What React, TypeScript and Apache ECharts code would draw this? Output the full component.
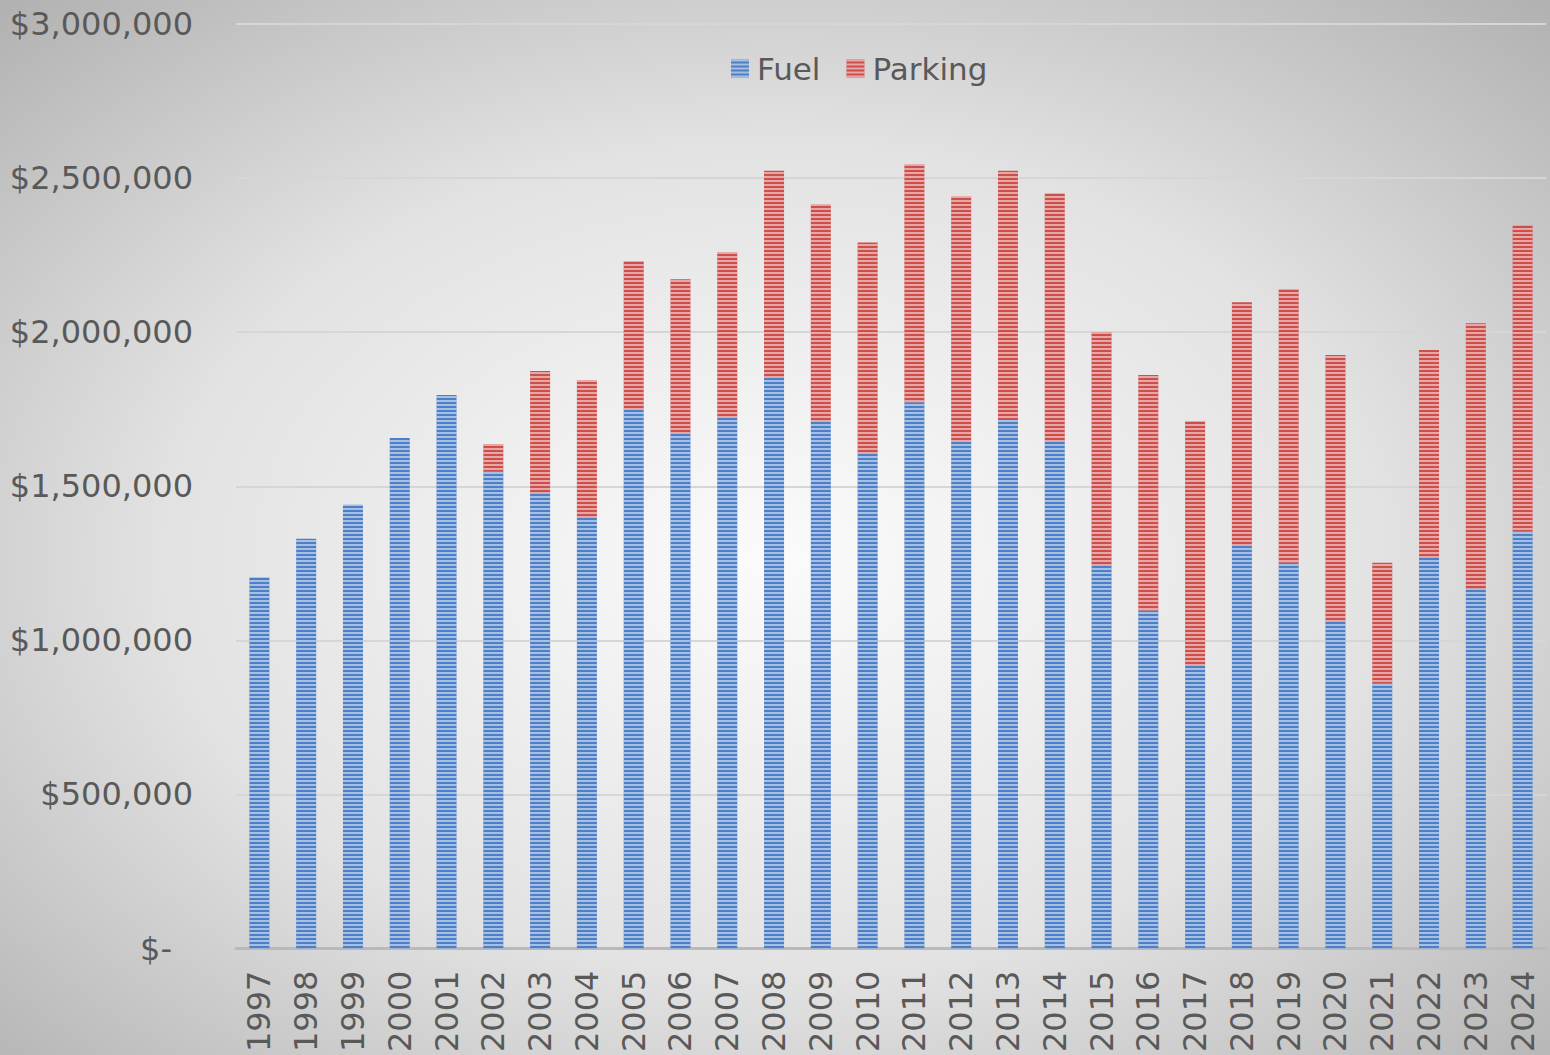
import React, { useEffect, useRef } from "react";
import * as echarts from "echarts";

const years = [
  "1997","1998","1999","2000","2001","2002","2003","2004","2005","2006","2007","2008","2009","2010",
  "2011","2012","2013","2014","2015","2016","2017","2018","2019","2020","2021","2022","2023","2024",
];
const fuel = [
  1204000, 1330000, 1440000, 1657000, 1796000, 1547000, 1476000, 1398000, 1751000, 1670000,
  1725000, 1851000, 1712000, 1605000, 1773000, 1647000, 1715000, 1644000, 1243000, 1097000,
  919000, 1307000, 1252000, 1061000, 861000, 1268000, 1168000, 1353000,
];
const parking = [
  0, 0, 0, 0, 0, 90000, 398000, 447000, 479000, 502000,
  534000, 673000, 702000, 686000, 771000, 793000, 809000, 806000, 757000, 764000,
  793000, 790000, 887000, 865000, 391000, 674000, 861000, 993000,
];
const yTicks = { min: 0, max: 3000000, interval: 500000 };

const FONT = "'DejaVu Sans', Verdana, sans-serif";
const TEXT = "#595959";
const FS = 32;

const stripe = (color: string) => ({
  color,
  decal: {
    symbol: "rect",
    symbolSize: 1,
    dashArrayX: [1, 0],
    dashArrayY: [2, 2],
    rotation: 0,
    color: "rgba(255,255,255,0.5)",
  },
});

export default function App() {
  const ref = useRef<HTMLDivElement>(null);
  useEffect(() => {
    if (!ref.current) return;
    const chart = echarts.init(ref.current, undefined, { renderer: "svg" });
    chart.setOption({
      animation: false,
      graphic: [
        {
          type: "rect",
          z: -100,
          silent: true,
          shape: { x: 0, y: 0, width: 1550, height: 1055 },
          style: {
            fill: new echarts.graphic.RadialGradient(0.5, 0.53, 0.72, [
              { offset: 0, color: "#fbfbfb" },
              { offset: 0.55, color: "#e2e2e2" },
              { offset: 1, color: "#b2b2b2" },
            ]),
          },
        },
      ],
      legend: {
        top: 48,
        left: 726,
        itemWidth: 18,
        itemHeight: 18,
        itemGap: 26,
        icon: "rect",
        textStyle: { fontSize: 31, color: TEXT, fontFamily: FONT, padding: [0, 0, 0, 3] },
        data: ["Fuel", "Parking"],
      },
      grid: { left: 236, right: 4, top: 24, bottom: 104, containLabel: false },
      xAxis: {
        type: "category",
        data: years,
        axisLine: { show: true, lineStyle: { color: "#b9b9b9", width: 3 } },
        axisTick: { show: false },
        axisLabel: {
          rotate: 90,
          fontSize: FS,
          color: TEXT,
          fontFamily: FONT,
          margin: 22,
          interval: 0,
        },
      },
      yAxis: {
        type: "value",
        min: yTicks.min,
        max: yTicks.max,
        interval: yTicks.interval,
        axisLine: { show: false },
        axisTick: { show: false },
        splitLine: { lineStyle: { color: "#d6d6d6", width: 2 } },
        axisLabel: {
          fontSize: FS,
          color: TEXT,
          fontFamily: FONT,
          margin: 43,
          formatter: (v: number) =>
            v === 0 ? "{z|$-}" : "$" + v.toLocaleString("en-US"),
          rich: { z: { fontSize: FS, color: TEXT, fontFamily: FONT, padding: [0, 21, 0, 0] } },
        },
      },
      series: [
        {
          name: "Fuel",
          type: "bar",
          stack: "total",
          barWidth: 20,
          data: fuel,
          itemStyle: stripe("#4d7fc6"),
        },
        {
          name: "Parking",
          type: "bar",
          stack: "total",
          barWidth: 20,
          data: parking,
          itemStyle: stripe("#cc4f4c"),
        },
      ],
    });
    return () => chart.dispose();
  }, []);
  return <div ref={ref} style={{ width: 1550, height: 1055, position: "absolute", left: 0, top: 0 }} />;
}
